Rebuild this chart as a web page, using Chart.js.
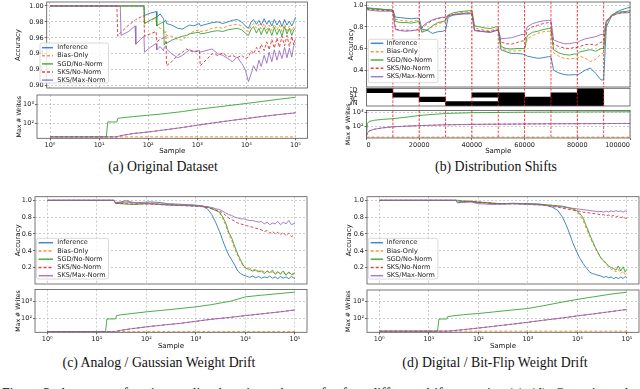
<!DOCTYPE html>
<html>
<head>
<meta charset="utf-8">
<script src="https://cdn.jsdelivr.net/npm/chart.js@4.4.1/dist/chart.umd.min.js"></script>
<style>
  html, body { margin: 0; padding: 0; background: #fff; }
  body { width: 640px; height: 389px; position: relative; overflow: hidden; }
  canvas { position: absolute; }
  .cap { position: absolute; font-family: "Liberation Serif", serif; font-size: 13.8px; line-height: 1; white-space: nowrap; color: #111; transform: translateX(-50%); }
  .note { position: absolute; left: 2px; width: 636px; top: 385.8px; font-family: "Liberation Serif", serif; font-size: 13.8px; line-height: 16px; text-align: justify; text-align-last: justify; color: #111; }
</style>
</head>
<body>
<div class="cap" style="left:163px;top:160px">(a) Original Dataset</div>
<div class="cap" style="left:496px;top:160px">(b) Distribution Shifts</div>
<div class="cap" style="left:159px;top:355.5px">(c) Analog / Gaussian Weight Drift</div>
<div class="cap" style="left:495px;top:355.5px">(d) Digital / Bit-Flip Weight Drift</div>
<div class="note">Figure 3: Accuracy of various online learning schemes for four different drift scenarios (a)–(d). Over time, the</div>
<script>
Chart.defaults.font.family = '"DejaVu Sans", sans-serif';
Chart.defaults.color = '#222';

// series
const seriesNames = ['Inference', 'Bias-Only', 'SGD/No-Norm', 'SKS/No-Norm', 'SKS/Max-Norm'];
const seriesColors = ['rgba(31,119,180,0.85)', 'rgba(255,127,14,0.85)', 'rgba(44,160,44,0.85)', 'rgba(214,39,40,0.85)', 'rgba(148,103,189,0.85)'];
const seriesDash = [[], [3, 2], [], [3, 2], []];

// tick labels
const logDecades = [1, 10, 100, 1000, 10000, 100000];
const writeTicks = [100, 1000];
const accTicksA = [0.90, 0.92, 0.94, 0.96, 0.98, 1.00];
const accTicksB = [0.4, 0.6, 0.8, 1.0];
const accTicksCD = [0.2, 0.4, 0.6, 0.8, 1.0];
const sampleTicksB = [0, 20000, 40000, 60000, 80000, 100000];

// (a) original dataset - accuracy
const aX = [1, 23, 24, 27, 28, 40, 54, 56, 70, 82, 84, 110, 145, 150, 175, 205, 212, 230, 236, 300, 400, 500, 600, 700, 850, 1100, 1150, 1500, 2000, 2600, 3300, 4200, 5200, 6500, 8000, 9500, 11000, 12500, 14000, 16000, 18000, 20000, 23000, 26000, 29000, 33000, 37000, 42000, 47000, 53000, 60000, 67000, 75000, 84000, 92000, 100000];
const aInf = [1.0,1.0,1.0,1.0,1.0, 1.0,1.0,1.0,1.0,1.0, 0.988,0.991,0.993,0.986,0.99, 0.984,0.98,0.982,0.978,0.976, 0.972,0.971,0.974,0.976,0.975, 0.978,0.975,0.977,0.979,0.98, 0.978,0.98,0.982,0.983,0.98, 0.975,0.972,0.98,0.983,0.977, 0.982,0.976,0.984,0.977,0.982, 0.975,0.983,0.976,0.982,0.974, 0.983,0.976,0.981,0.975,0.98, 0.986];
const aBias = [1.0,1.0,1.0,1.0,1.0, 1.0,1.0,1.0,1.0,1.0, 0.978,0.982,0.985,0.975,0.972, 0.97,0.965,0.968,0.963,0.962, 0.958,0.957,0.962,0.966,0.968, 0.97,0.968,0.969,0.972,0.973, 0.972,0.975,0.976,0.977,0.975, 0.97,0.968,0.975,0.978,0.972, 0.977,0.971,0.978,0.97,0.976, 0.969,0.977,0.97,0.976,0.968, 0.977,0.969,0.975,0.968,0.974, 0.976];
const aSgd = [1.0,1.0,1.0,1.0,1.0, 1.0,1.0,1.0,1.0,1.0, 0.978,0.982,0.986,0.975,0.978, 0.98,0.951,0.955,0.953,0.957, 0.96,0.962,0.963,0.965,0.966, 0.967,0.965,0.966,0.968,0.969, 0.968,0.97,0.971,0.972,0.97, 0.966,0.963,0.971,0.974,0.966, 0.972,0.964,0.973,0.965,0.972, 0.963,0.973,0.964,0.971,0.962, 0.974,0.965,0.972,0.963,0.97, 0.972];
const aSksNo = [1.0,1.0,0.962,0.966,0.967, 0.976,0.982,0.983,0.986,0.988, 0.962,0.965,0.968,0.955,0.958, 0.96,0.961,0.962,0.925,0.93, 0.938,0.942,0.946,0.944,0.942, 0.944,0.925,0.932,0.94,0.938, 0.941,0.936,0.938,0.935,0.938, 0.934,0.936,0.944,0.94,0.948, 0.942,0.952,0.944,0.955,0.945, 0.958,0.947,0.96,0.948,0.962, 0.95,0.963,0.949,0.962,0.951, 0.96];
const aSksMax = [1.0,1.0,1.0,1.0,0.963, 0.968,0.975,0.952,0.958,0.962, 0.942,0.948,0.953,0.945,0.949, 0.944,0.948,0.95,0.946,0.94, 0.935,0.938,0.942,0.945,0.943, 0.944,0.942,0.944,0.946,0.94, 0.938,0.934,0.93,0.936,0.928, 0.92,0.905,0.915,0.925,0.918, 0.932,0.924,0.938,0.928,0.942, 0.93,0.945,0.932,0.944,0.934, 0.948,0.935,0.947,0.936,0.95, 0.952];

// (a) writes
const waX = [1, 14, 15, 23, 24, 30, 50, 100, 200, 500, 1000, 2000, 5000, 10000, 20000, 50000, 100000];
const waSgd = [20, 20, 120, 120, 185, 200, 230, 270, 320, 420, 550, 680, 900, 1120, 1400, 1900, 2340];
const waSks = [20, 20, 20, 20, 21, 24, 30, 36, 45, 62, 81, 105, 145, 182, 230, 300, 360];
const waBaseX = [1, 100000];
const waBase = [20, 20];

// (b) distribution shifts - accuracy
const bX = [0,1000,3000,5000,7000,9000, 10000,11000,13000,15000,17000,19000, 20000,21000,23000,25000,27000,29000, 30000,31000,33000,35000,37000,39000, 40000,41000,43000,45000,47000,49000, 50000,51000,53000,55000,57000,59000, 60000,61000,63000,65000,67000,69000, 70000,71000,73000,75000,77000,79000, 80000,81000,83000,85000,87000,89000, 90000,91000,93000,95000,97000,99000, 100000];
const bInf = [0.98,0.975,0.97,0.965,0.96,0.955, 0.955,0.89,0.885,0.88,0.875,0.88, 0.88,0.78,0.77,0.74,0.755,0.76, 0.77,0.89,0.91,0.915,0.92,0.92, 0.925,0.77,0.76,0.755,0.75,0.765, 0.77,0.59,0.57,0.555,0.555,0.55, 0.545,0.53,0.52,0.51,0.515,0.525, 0.525,0.4,0.375,0.36,0.355,0.36, 0.355,0.37,0.4,0.42,0.37,0.31, 0.31,0.8,0.9,0.94,0.96,0.975, 0.98];
const bBias = [0.97,0.965,0.96,0.96,0.955,0.955, 0.95,0.87,0.86,0.855,0.85,0.86, 0.86,0.76,0.77,0.8,0.83,0.84, 0.85,0.9,0.92,0.93,0.935,0.94, 0.94,0.79,0.78,0.77,0.765,0.78, 0.78,0.6,0.585,0.575,0.58,0.58, 0.58,0.69,0.72,0.74,0.755,0.76, 0.76,0.56,0.53,0.51,0.505,0.51, 0.51,0.53,0.51,0.48,0.5,0.55, 0.56,0.82,0.9,0.93,0.935,0.94, 0.945];
const bSgd = [0.97,0.97,0.965,0.965,0.96,0.96, 0.955,0.85,0.84,0.84,0.835,0.845, 0.85,0.75,0.77,0.81,0.84,0.85, 0.86,0.91,0.93,0.94,0.945,0.95, 0.955,0.81,0.8,0.79,0.785,0.8, 0.8,0.62,0.6,0.595,0.6,0.6, 0.6,0.72,0.75,0.76,0.775,0.785, 0.79,0.59,0.56,0.545,0.54,0.55, 0.55,0.57,0.58,0.59,0.575,0.6, 0.6,0.84,0.91,0.935,0.94,0.945, 0.95];
const bSksNo = [0.965,0.96,0.955,0.955,0.95,0.95, 0.945,0.78,0.77,0.77,0.765,0.775, 0.78,0.79,0.83,0.86,0.875,0.885, 0.89,0.905,0.915,0.92,0.925,0.93, 0.93,0.77,0.765,0.76,0.755,0.77, 0.775,0.66,0.645,0.64,0.655,0.67, 0.67,0.77,0.8,0.815,0.83,0.84, 0.84,0.64,0.62,0.605,0.6,0.61, 0.61,0.62,0.635,0.64,0.63,0.66, 0.66,0.85,0.9,0.92,0.93,0.935, 0.935];
const bSksMax = [0.96,0.955,0.95,0.945,0.945,0.945, 0.94,0.775,0.765,0.76,0.765,0.77, 0.77,0.8,0.84,0.865,0.88,0.89, 0.89,0.9,0.91,0.92,0.925,0.925, 0.925,0.765,0.76,0.755,0.75,0.765, 0.77,0.69,0.695,0.7,0.715,0.73, 0.73,0.8,0.83,0.845,0.855,0.86, 0.86,0.68,0.66,0.645,0.645,0.655, 0.655,0.67,0.69,0.7,0.71,0.73, 0.73,0.86,0.9,0.92,0.93,0.93, 0.935];

// (b) shift schedule
const shiftEdges = [0, 10000, 20000, 30000, 40000, 50000, 60000, 70000, 80000, 90000, 100000];
const stripRows = ['CD', 'ST', 'RC', 'WN'];
const shiftActive = [['CD'], ['ST'], ['RC'], ['WN'], ['ST', 'WN'], ['ST', 'RC', 'WN'], ['RC', 'WN'], ['ST', 'RC', 'WN'], ['CD', 'ST', 'RC', 'WN'], []];

// (b) writes
const wbX = [0, 300, 1000, 3000, 6000, 10000, 15000, 20000, 30000, 40000, 50000, 60000, 70000, 80000, 90000, 100000];
const wbSgd = [20, 150, 220, 270, 310, 350, 450, 600, 840, 950, 1000, 1040, 1060, 1080, 1100, 1120];
const wbSks = [20, 30, 45, 60, 75, 90, 100, 110, 125, 135, 140, 145, 150, 152, 155, 158];
const wbBaseX = [0, 100000];
const wbBase = [16, 16];

// (c) gaussian drift - accuracy
const cX = [1, 22, 24, 30, 40, 55, 80, 120, 180, 270, 400, 600, 900, 1300, 1700, 2100, 2500, 3000, 3500, 4000, 4600, 5300, 6100, 7000, 8000, 9200, 10500, 12000, 14000, 16000, 18500, 21000, 24000, 27500, 31000, 35000, 40000, 45000, 51000, 58000, 66000, 75000, 85000, 100000];
const cInf = [1.0,1.0,0.97,0.975,0.98, 0.97,0.975,0.98,0.975,0.96, 0.955,0.95,0.945,0.935,0.9, 0.83,0.74,0.63,0.52,0.43, 0.35,0.29,0.23,0.16,0.13, 0.11,0.1,0.085,0.1,0.08, 0.095,0.075,0.09,0.08,0.1, 0.075,0.09,0.07,0.095,0.075, 0.09,0.07,0.095,0.07];
const cBias = [1.0,1.0,0.975,0.98,0.985, 0.975,0.97,0.975,0.965,0.955, 0.95,0.945,0.94,0.935,0.925, 0.91,0.89,0.85,0.78,0.7, 0.6,0.52,0.42,0.34,0.27, 0.21,0.19,0.2,0.17,0.18, 0.16,0.17,0.15,0.16,0.14, 0.15,0.13,0.15,0.12,0.14, 0.12,0.14,0.11,0.13];
const cSgd = [1.0,1.0,0.965,0.96,0.955, 0.95,0.955,0.96,0.95,0.945, 0.94,0.94,0.935,0.93,0.92, 0.9,0.88,0.86,0.8,0.73, 0.62,0.55,0.45,0.36,0.29, 0.22,0.19,0.18,0.16,0.17, 0.15,0.16,0.13,0.16,0.14, 0.17,0.12,0.15,0.13,0.16, 0.11,0.15,0.12,0.14];
const cSksNo = [1.0,1.0,0.96,0.965,0.96, 0.955,0.96,0.955,0.95,0.945, 0.94,0.935,0.93,0.925,0.915, 0.9,0.885,0.87,0.85,0.82, 0.79,0.77,0.75,0.73,0.72, 0.71,0.7,0.69,0.68,0.67, 0.66,0.65,0.63,0.64,0.61, 0.63,0.6,0.62,0.59,0.62, 0.58,0.61,0.57,0.59];
const cSksMax = [1.0,1.0,0.97,0.98,1.0, 0.97,0.965,0.96,0.955,0.95, 0.945,0.94,0.935,0.93,0.925, 0.915,0.9,0.89,0.87,0.85, 0.83,0.82,0.8,0.79,0.78, 0.78,0.77,0.76,0.76,0.75, 0.74,0.75,0.72,0.74,0.71, 0.73,0.72,0.75,0.71,0.74, 0.72,0.76,0.71,0.73];

// (c) writes
const wcX = [1, 15, 16, 24, 25, 30, 50, 100, 200, 500, 1000, 2000, 5000, 10000, 20000, 50000, 100000];
const wcSgd = [17, 17, 93, 93, 145, 160, 190, 240, 290, 380, 470, 620, 1000, 1780, 2200, 2800, 3400];
const wcSks = [17, 17, 17, 17, 18, 20, 25, 32, 40, 52, 68, 88, 115, 145, 180, 240, 310];
const wcBaseX = [1, 100000];
const wcBase = [17, 17];

// (d) bit-flip drift - accuracy
const dX = [1, 35, 38, 50, 70, 100, 140, 200, 300, 500, 800, 1200, 1800, 2500, 3200, 4000, 5000, 6000, 7000, 8000, 9500, 11000, 13000, 15000, 17500, 20000, 23000, 26000, 30000, 34000, 38000, 43000, 48000, 54000, 60000, 67000, 75000, 84000, 92000, 100000];
const dInf = [1.0,1.0,0.98,0.985,0.99, 0.97,0.975,0.965,0.96,0.965, 0.96,0.96,0.955,0.94,0.915, 0.88,0.8,0.7,0.6,0.5, 0.4,0.32,0.25,0.2,0.15, 0.13,0.12,0.11,0.1,0.085, 0.095,0.08,0.09,0.07,0.085, 0.07,0.09,0.07,0.095,0.08];
const dBias = [1.0,1.0,1.0,0.995,0.99, 0.985,0.975,0.965,0.96,0.96, 0.96,0.955,0.95,0.945,0.94, 0.935,0.925,0.915,0.9,0.89, 0.87,0.83,0.76,0.67,0.58, 0.5,0.43,0.37,0.32,0.28, 0.24,0.21,0.18,0.17,0.15, 0.18,0.13,0.16,0.12,0.14];
const dSgd = [1.0,1.0,1.0,0.99,0.985, 0.98,0.97,0.965,0.96,0.96, 0.96,0.955,0.95,0.945,0.94, 0.935,0.93,0.92,0.91,0.9, 0.88,0.85,0.79,0.7,0.6, 0.52,0.44,0.38,0.31,0.28, 0.25,0.22,0.2,0.19,0.17, 0.22,0.16,0.21,0.15,0.18];
const dSksNo = [1.0,1.0,0.975,0.98,0.985, 0.975,0.97,0.96,0.955,0.96, 0.955,0.95,0.945,0.935,0.925, 0.92,0.905,0.9,0.89,0.885, 0.875,0.87,0.86,0.855,0.85, 0.845,0.84,0.835,0.825,0.83, 0.815,0.825,0.81,0.82,0.8, 0.815,0.795,0.805,0.785,0.79];
const dSksMax = [1.0,1.0,0.97,0.975,0.98, 0.96,0.955,0.95,0.955,0.96, 0.955,0.95,0.945,0.935,0.93, 0.925,0.92,0.915,0.91,0.905, 0.9,0.895,0.89,0.885,0.88, 0.875,0.87,0.865,0.868,0.86, 0.872,0.862,0.875,0.865,0.878, 0.865,0.875,0.86,0.877,0.862];

// (d) writes
const wdX = [1, 15, 16, 23, 24, 30, 50, 100, 200, 500, 1000, 2000, 5000, 10000, 20000, 50000, 100000];
const wdSgd = [17, 17, 91, 91, 126, 140, 165, 195, 240, 320, 390, 560, 950, 1380, 1900, 2900, 3700];
const wdSks = [17, 17, 17, 17, 17, 18, 21, 26, 33, 45, 58, 76, 105, 141, 180, 260, 340];

// ---------------------------------------------------------------

const SUP = {0: '\u2070', 1: '\u00b9', 2: '\u00b2', 3: '\u00b3', 4: '\u2074', 5: '\u2075'};
const pow10 = v => '10' + SUP[Math.round(Math.log10(v))];

function pts(xs, ys) {
  return xs.map((x, k) => ({x: x, y: ys[k]}));
}

function accSets(xs, cols) {
  return cols.map((ys, i) => ({
    label: seriesNames[i], data: pts(xs, ys),
    borderColor: seriesColors[i], borderDash: seriesDash[i], borderWidth: 1,
    pointRadius: 0, tension: 0, fill: false, order: 4 - i
  }));
}

function writeSets(xs, sgd, sks, baseX, base) {
  const mk = (i, data) => ({
    label: seriesNames[i], data: data,
    borderColor: seriesColors[i], borderDash: seriesDash[i], borderWidth: 1,
    pointRadius: 0, tension: 0, fill: false, order: 4 - i
  });
  return [mk(1, pts(baseX, base)), mk(2, pts(xs, sgd)), mk(3, pts(xs, sks)), mk(4, pts(xs, sks))];
}

const framePlugin = {
  id: 'frame',
  afterDatasetsDraw(chart) {
    const a = chart.chartArea, c = chart.ctx;
    c.save();
    c.strokeStyle = '#555';
    c.lineWidth = 0.8;
    c.strokeRect(a.left, a.top, a.right - a.left, a.bottom - a.top);
    c.restore();
  }
};

const shiftPlugin = {
  id: 'shiftLines',
  afterDatasetsDraw(chart) {
    const a = chart.chartArea, c = chart.ctx, xs = chart.scales.x;
    c.save();
    c.strokeStyle = 'rgba(235,30,30,0.9)';
    c.lineWidth = 0.9;
    c.setLineDash([2.5, 1.5]);
    shiftEdges.slice(1, -1).forEach(v => {
      const px = xs.getPixelForValue(v);
      c.beginPath(); c.moveTo(px, a.top); c.lineTo(px, a.bottom); c.stroke();
    });
    c.restore();
  }
};

const legendPlugin = {
  id: 'boxLegend',
  afterDraw(chart, args, o) {
    const c = chart.ctx;
    const ox = o.origin[0], oy = o.origin[1];
    c.save();
    c.font = '6.5px "DejaVu Sans"';
    const tw = Math.max(...seriesNames.map(n => c.measureText(n).width));
    const bx = o.x - ox, by = o.y - oy, bw = o.tx - o.x + tw + 3;
    c.beginPath();
    c.roundRect(bx, by, bw, o.h, 2);
    c.fillStyle = 'rgba(255,255,255,0.8)';
    c.fill();
    c.strokeStyle = '#d0d0d0';
    c.lineWidth = 0.8;
    c.stroke();
    c.textBaseline = 'middle';
    seriesNames.forEach((n, i) => {
      const y = by + o.first + i * o.step;
      c.strokeStyle = seriesColors[i];
      c.lineWidth = 1.5;
      c.setLineDash(seriesDash[i]);
      c.beginPath(); c.moveTo(o.l0 - ox, y); c.lineTo(o.l1 - ox, y); c.stroke();
      c.setLineDash([]);
      c.fillStyle = '#222';
      c.fillText(n, o.tx - ox, y);
    });
    c.restore();
  }
};

function numScale(spec, fit) {
  return {
    type: spec.type, min: spec.min, max: spec.max,
    grid: { display: spec.grid !== false, color: '#b8b8b8', lineWidth: 0.7, drawTicks: !!spec.labels, tickLength: 2, tickColor: '#333', tickWidth: 0.7 },
    border: { display: false, dash: [2, 2] },
    ticks: { display: !!spec.labels, maxRotation: 0, autoSkip: false, padding: 1, align: spec.align || 'center', font: {size: 6.5}, color: '#222', callback: spec.fmt },
    title: spec.title ? { display: true, text: spec.title, padding: 0, font: {size: spec.titleSize || 7}, color: '#111' } : { display: false },
    afterBuildTicks: s => { if (spec.ticks) s.ticks = spec.ticks.map(v => ({value: v})); },
    afterFit: fit
  };
}

function makePlot(area, cfg) {
  const [l, t, r, b] = area;
  const off = 7 * 0.6;
  const left = Math.floor(cfg.yTitleX != null ? cfg.yTitleX - off : l - cfg.yw);
  const top = Math.floor(t - (cfg.padTop || 2));
  const right = Math.min(640, Math.ceil(r + (cfg.padRight || 2)));
  const bottom = Math.ceil(cfg.xTitleY != null ? cfg.xTitleY + off : b + 2);
  const cv = document.createElement('canvas');
  cv.width = right - left;
  cv.height = bottom - top;
  cv.style.left = left + 'px';
  cv.style.top = top + 'px';
  document.body.appendChild(cv);
  const yw = l - left;
  const xh = cfg.xTitleY != null ? bottom - b : 0;
  const fitX = s => { s.height = xh; s.paddingLeft = 0; s.paddingRight = 0; };
  const fitY = s => { s.width = yw; s.paddingTop = 0; s.paddingBottom = 0; };

  const yScale = cfg.y.type === 'category'
    ? { type: 'category', grid: {display: false}, border: {display: false},
        ticks: { autoSkip: false, padding: 1, font: {size: 6.5}, color: '#222' }, afterFit: fitY }
    : numScale(cfg.y, fitY);

  const plugins = [framePlugin];
  if (cfg.shifts) plugins.push(shiftPlugin);
  if (cfg.legend) plugins.push(legendPlugin);

  return new Chart(cv, {
    type: cfg.type || 'line',
    data: { labels: cfg.labels, datasets: cfg.datasets },
    options: {
      responsive: false, animation: false, devicePixelRatio: 1,
      indexAxis: cfg.indexAxis || 'x',
      layout: { padding: { left: 0, top: t - top, right: right - r, bottom: cfg.xTitleY != null ? 0 : bottom - b } },
      plugins: {
        legend: {display: false}, tooltip: {enabled: false},
        boxLegend: cfg.legend ? Object.assign({origin: [left, top]}, cfg.legend) : {}
      },
      scales: { x: numScale(cfg.x, fitX), y: yScale }
    },
    plugins: plugins
  });
}

const fmt2 = v => v.toFixed(2);
const fmt1 = v => v.toFixed(1);

// (a)
makePlot([46.7, 2, 307.5, 88], {
  yTitleX: 18.3,
  x: { type: 'logarithmic', min: 0.857, max: 175500, ticks: logDecades },
  y: { type: 'linear', min: 0.897, max: 1.005, ticks: accTicksA, labels: true, fmt: fmt2, title: 'Accuracy' },
  datasets: accSets(aX, [aInf, aBias, aSgd, aSksNo, aSksMax]),
  legend: { x: 40, y: 43, h: 40, first: 4.7, step: 8.1, l0: 42, l1: 53, tx: 57.3 }
});
makePlot([37, 95, 307.5, 138.3], {
  yTitleX: 20.3, xTitleY: 150, padTop: 4,
  x: { type: 'logarithmic', min: 0.543, max: 175500, ticks: logDecades, labels: true, fmt: pow10, title: 'Sample' },
  y: { type: 'logarithmic', min: 16.8, max: 3090, ticks: writeTicks, labels: true, fmt: pow10, title: 'Max # Writes', titleSize: 6.2 },
  datasets: writeSets(waX, waSgd, waSks, waBaseX, waBase)
});

// (b)
makePlot([366.5, 2, 630, 87], {
  yTitleX: 351.7, shifts: true,
  x: { type: 'linear', min: 0, max: 100000, ticks: sampleTicksB },
  y: { type: 'linear', min: 0.245, max: 1.03, ticks: accTicksB, labels: true, fmt: fmt1, title: 'Accuracy' },
  datasets: accSets(bX, [bInf, bBias, bSgd, bSksNo, bSksMax]),
  legend: { x: 368.3, y: 39.3, h: 43.4, first: 4, step: 8.35, l0: 370.7, l1: 383.3, tx: 386.7 }
});
makePlot([366.5, 88.3, 630, 106], {
  yw: 16, shifts: true, type: 'bar', indexAxis: 'y', labels: stripRows,
  x: { type: 'linear', min: 0, max: 100000, grid: false },
  y: { type: 'category' },
  datasets: shiftActive.map((act, k) => ({
    data: stripRows.map(rw => act.includes(rw) ? [shiftEdges[k], shiftEdges[k + 1]] : null),
    backgroundColor: '#000', borderWidth: 0, grouped: false, barPercentage: 1, categoryPercentage: 1
  }))
});
makePlot([366.5, 110.5, 630, 138], {
  yTitleX: 349.3, xTitleY: 150, shifts: true, padRight: 10, padTop: 8,
  x: { type: 'linear', min: 0, max: 100000, ticks: sampleTicksB, labels: true, align: 'inner', fmt: v => String(v), title: 'Sample' },
  y: { type: 'logarithmic', min: 13.8, max: 1380, ticks: writeTicks, labels: true, fmt: pow10, title: 'Max # Writes', titleSize: 6.2 },
  datasets: writeSets(wbX, wbSgd, wbSks, wbBaseX, wbBase)
});

// (c)
makePlot([35, 196.7, 307, 284], {
  yTitleX: 18.3,
  x: { type: 'logarithmic', min: 0.565, max: 175000, ticks: logDecades },
  y: { type: 'linear', min: 0.006, max: 1.043, ticks: accTicksCD, labels: true, fmt: fmt1, title: 'Accuracy' },
  datasets: accSets(cX, [cInf, cBias, cSgd, cSksNo, cSksMax]),
  legend: { x: 36.5, y: 238.3, h: 40.7, first: 4.4, step: 8.25, l0: 38.5, l1: 53, tx: 57.3 }
});
makePlot([35, 289.5, 307, 332.3], {
  yTitleX: 20, xTitleY: 345, padTop: 4,
  x: { type: 'logarithmic', min: 0.565, max: 175000, ticks: logDecades, labels: true, fmt: pow10, title: 'Sample' },
  y: { type: 'logarithmic', min: 15.5, max: 4790, ticks: writeTicks, labels: true, fmt: pow10, title: 'Max # Writes', titleSize: 6.2 },
  datasets: writeSets(wcX, wcSgd, wcSks, wcBaseX, wcBase)
});

// (d)
makePlot([367, 196.7, 639, 284], {
  yTitleX: 349.3,
  x: { type: 'logarithmic', min: 0.565, max: 175000, ticks: logDecades },
  y: { type: 'linear', min: 0.006, max: 1.043, ticks: accTicksCD, labels: true, fmt: fmt1, title: 'Accuracy' },
  datasets: accSets(dX, [dInf, dBias, dSgd, dSksNo, dSksMax]),
  legend: { x: 368.3, y: 238.3, h: 40.7, first: 4.4, step: 8.25, l0: 370.7, l1: 383, tx: 386.7 }
});
makePlot([367, 290, 639, 332.3], {
  yTitleX: 349.3, xTitleY: 345, padTop: 4,
  x: { type: 'logarithmic', min: 0.565, max: 175000, ticks: logDecades, labels: true, fmt: pow10, title: 'Sample' },
  y: { type: 'logarithmic', min: 14.5, max: 5010, ticks: writeTicks, labels: true, fmt: pow10, title: 'Max # Writes', titleSize: 6.2 },
  datasets: writeSets(wdX, wdSgd, wdSks, wcBaseX, wcBase)
});
</script>
</body>
</html>
